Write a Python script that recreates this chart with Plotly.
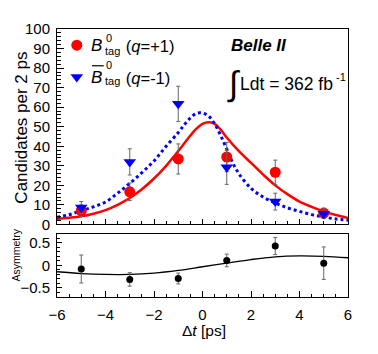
import plotly.graph_objects as go

# ---------------- data ----------------
dt_bins = [-5, -3, -1, 1, 3, 5]

b0_counts = [7.0, 16.7, 33.5, 34.5, 26.7, 5.8]
b0_errors = [3.0, 4.5, 7.7, 7.5, 6.2, 2.5]

b0bar_counts = [8.7, 32.0, 61.7, 29.2, 11.7, 5.5]
b0bar_errors = [3.0, 6.7, 9.0, 8.7, 4.3, 2.5]

asym_values = [-0.08, -0.31, -0.29, 0.11, 0.43, 0.05]
asym_errors = [0.31, 0.15, 0.12, 0.14, 0.19, 0.36]

b0_curve_dt = [-6, -5.5, -5, -4.5, -4, -3.5, -3, -2.5, -2, -1.5, -1, -0.75, -0.5, -0.25,
               0, 0.25, 0.5, 0.75, 1, 1.5, 2, 2.5, 3, 3.5, 4, 4.5, 5, 5.5, 6]
b0_fit = [2.8, 3.4, 4.2, 5.5, 7.3, 10.0, 13.5, 18.0, 23.5, 30.0, 37.5, 41.5, 45.5, 49.0,
          51.5, 52.3, 51.5, 48.5, 44.5, 37.5, 31.5, 25.5, 20.0, 15.5, 11.7, 9.0, 6.7, 4.8, 3.3]

b0bar_curve_dt = [-6, -5.5, -5, -4.5, -4, -3.5, -3, -2.5, -2, -1.5, -1, -0.75, -0.5, -0.25,
                  0, 0.25, 0.5, 0.75, 1, 1.25, 1.5, 2, 2.5, 3, 3.5, 4, 4.5, 5, 5.5, 6]
b0bar_fit = [3.7, 5.0, 7.0, 9.0, 11.5, 16.0, 21.0, 26.5, 32.5, 40.0, 47.0, 51.0, 54.5, 56.8,
             57.0, 55.5, 51.5, 45.5, 38.5, 31.5, 26.0, 18.5, 14.0, 11.0, 8.5, 6.7, 5.0, 3.8, 2.8, 2.2]

asym_curve_dt = [-6, -5, -4, -3, -2, -1, 0, 1, 2, 3, 4, 5, 6]
asym_fit = [-0.14, -0.18, -0.20, -0.20, -0.17, -0.11, -0.03, 0.05, 0.13, 0.19, 0.21, 0.20, 0.17]

x_ticks = [-6, -4, -2, 0, 2, 4, 6]

legend_b0 = "(<i>q</i>=+1)"
legend_b0bar = "(<i>q</i>=-1)"

# ---------------- layout helpers ----------------
# The page body has an 8px margin, so the figure is made 16px smaller
# and all positions below are given in window pixels.
BODY = 8
WIN_W, WIN_H = 378, 354
W, H = WIN_W - 2 * BODY, WIN_H - 2 * BODY
X0, X1, Y0, Y1 = 49, 348, 20, 297          # plot area in window pixels
ML, MR = X0 - BODY, W - (X1 - BODY)
MT, MB = Y0 - BODY, H - (Y1 - BODY)
PW, PH = X1 - X0, Y1 - Y0
FONT = "Liberation Sans, Arial, Helvetica, sans-serif"


def px(p):
    return (p - X0) / PW


def py(p):
    return (Y1 - p) / PH


fig = go.Figure()

# fit curves
fig.add_trace(go.Scatter(x=b0_curve_dt, y=b0_fit, mode="lines",
                         line=dict(color="#ff0000", width=2.5, shape="spline"),
                         showlegend=False, xaxis="x", yaxis="y"))
fig.add_trace(go.Scatter(x=b0bar_curve_dt, y=b0bar_fit, mode="lines",
                         line=dict(color="#0000ff", width=3, dash="dot", shape="spline"),
                         showlegend=False, xaxis="x", yaxis="y"))

# data points
err_style = dict(type="data", thickness=1, width=2, color="#666666")
fig.add_trace(go.Scatter(x=dt_bins, y=b0_counts, mode="markers", name=legend_b0,
                         error_y=dict(array=b0_errors, **err_style),
                         marker=dict(symbol="circle", size=11, color="#ff0000"),
                         legend="legend", xaxis="x", yaxis="y"))
fig.add_trace(go.Scatter(x=dt_bins, y=b0bar_counts, mode="markers", name=legend_b0bar,
                         error_y=dict(array=b0bar_errors, **err_style),
                         marker=dict(symbol="triangle-down", size=11, color="#0000ff"),
                         legend="legend2", xaxis="x", yaxis="y"))

# asymmetry
fig.add_trace(go.Scatter(x=asym_curve_dt, y=asym_fit, mode="lines",
                         line=dict(color="black", width=1.3, shape="spline"),
                         showlegend=False, xaxis="x2", yaxis="y2"))
fig.add_trace(go.Scatter(x=dt_bins, y=asym_values, mode="markers",
                         error_y=dict(array=asym_errors, **err_style),
                         marker=dict(symbol="circle", size=7, color="black"),
                         showlegend=False, xaxis="x2", yaxis="y2"))

axis_common = dict(showline=True, linecolor="black", linewidth=1, mirror=True,
                   showgrid=False, zeroline=False, ticks="inside", tickcolor="black",
                   tickfont=dict(family=FONT, size=15, color="black"))

top_bottom = py(222)
bot_top = py(231.7)

# symbol centred at (itemwidth+10)/2 from the legend's left, text at itemwidth+10
ITEMW = 88
LEG_LEFT = 68 - (ITEMW + 10) / 2
legend_style = dict(xanchor="left", yanchor="middle", bgcolor="rgba(0,0,0,0)",
                    font=dict(family=FONT, size=16.5, color="black"), itemwidth=ITEMW, borderwidth=0)

fig.update_layout(
    width=W, height=H,
    margin=dict(l=ML, r=MR, t=MT, b=MB, pad=0),
    paper_bgcolor="white", plot_bgcolor="white",
    font=dict(family=FONT, color="black"),
    xaxis=dict(domain=[0, 1], range=[-6, 6], anchor="y", showticklabels=False, tickvals=x_ticks,
               ticklen=5, minor=dict(dtick=0.5, ticks="inside", ticklen=3, tickcolor="black"),
               **axis_common),
    yaxis=dict(domain=[top_bottom, 1], range=[0, 100], anchor="x", dtick=10, ticklen=7,
               minor=dict(dtick=2, ticks="inside", ticklen=4, tickcolor="black"),
               ticklabelstandoff=3, **axis_common),
    xaxis2=dict(domain=[0, 1], range=[-6, 6], anchor="y2", matches="x", tickvals=x_ticks,
                ticklen=6, minor=dict(dtick=0.5, ticks="inside", ticklen=3, tickcolor="black"),
                ticklabelstandoff=4, **axis_common),
    yaxis2=dict(domain=[0, bot_top], range=[-0.7, 0.7], anchor="x2", tickvals=[-0.5, 0, 0.5],
                ticktext=["\u22120.5", "0", "0.5"], ticklen=5,
                minor=dict(dtick=0.1, ticks="inside", ticklen=3, tickcolor="black"),
                ticklabelstandoff=3, **axis_common),
    showlegend=True,
    legend=dict(x=px(LEG_LEFT), y=py(37), **legend_style),
    legend2=dict(x=px(LEG_LEFT), y=py(70), **legend_style),
)

ann = []


def text(x, y, s, size, xanchor="left", yanchor="middle", angle=0, pad=1):
    ann.append(dict(x=px(x), y=py(y), xref="paper", yref="paper", text=s, showarrow=False,
                    xanchor=xanchor, yanchor=yanchor, textangle=angle, borderpad=pad,
                    font=dict(family=FONT, size=size, color="black")))


# B^0_tag parts of the legend labels (stacked super/subscripts)
text(82, 37, "<i>B</i>", 17)
text(97, 29, "0", 11)
text(96, 43, "tag", 11)
text(82, 70, "<i>B</i>", 17)
text(97, 57, "0", 11)
text(96, 74, "tag", 11)

# Belle II and luminosity
text(257, 37, "<b><i>Belle II</i></b>", 17, xanchor="center")
text(238, 76, "\u222b", 34, xanchor="right", pad=0)
text(334, 77, "Ldt = 362 fb", 17.5, xanchor="right", pad=0)
text(335, 70, "-1", 11, pad=0)

# axis titles
text(13, 122, "Candidates per 2 ps", 17, xanchor="center", angle=-90)
text(7, 254, "Asymmetry", 10.5, xanchor="center", angle=-90)
text(200, 332, "\u0394<i>t</i> [ps]", 15.5, xanchor="center")

fig.update_layout(annotations=ann)

# overline on the B-bar in the legend
fig.add_shape(type="line", xref="paper", yref="paper", x0=px(85), x1=px(97), y0=py(58), y1=py(58),
              line=dict(color="black", width=1.2))

fig.write_html("out.html")
